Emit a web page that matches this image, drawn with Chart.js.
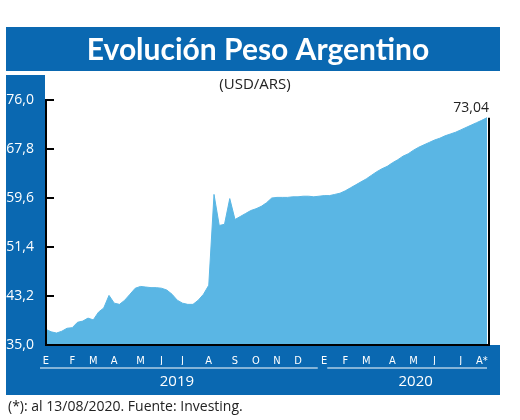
<!DOCTYPE html>
<html><head><meta charset="utf-8">
<script src="https://cdn.jsdelivr.net/npm/chart.js@4/dist/chart.umd.min.js"></script>
<style>
html,body{margin:0;padding:0;background:#fff;width:520px;height:420px;overflow:hidden}
#wrap{position:relative;width:520px;height:420px}
canvas{position:absolute;left:0;top:0}
</style></head><body>
<div id="wrap"><canvas id="c" width="520" height="420"></canvas></div>
<script>
const title = "Evolución Peso Argentino";
const subtitle = "(USD/ARS)";
const footnote = "(*): al 13/08/2020. Fuente: Investing.";
const yearLabels = ["2019", "2020"];
const yTicks = [35.0, 43.2, 51.4, 59.6, 67.8, 76.0];
const monthLetters = ["E","F","M","A","M","J","J","A","S","O","N","D","E","F","M","A","M","J","J","A*"];
const weeksPerMonth = [5,4,4,5,4,4,5,5,4,4,4,5,4,4,5,4,4,5,4,2];
const values = [
 37.6,37.2,37.0,37.3,37.8,
 37.9,38.8,39.0,39.5,
 39.2,40.5,41.2,43.3,
 42.0,41.8,42.5,43.5,44.5,
 44.8,44.7,44.6,44.6,
 44.5,44.2,43.5,42.5,
 42.0,41.8,41.8,42.5,43.5,
 45.0,60.2,55.0,55.2,59.5,
 56.0,56.5,57.0,57.5,
 57.8,58.2,58.8,59.6,
 59.7,59.7,59.7,59.8,
 59.8,59.9,59.9,59.8,59.9,
 60.0,60.0,60.2,60.4,
 60.8,61.3,61.8,62.3,
 62.8,63.4,64.0,64.5,64.9,
 65.5,66.0,66.6,67.0,
 67.6,68.1,68.5,68.9,
 69.3,69.6,70.0,70.3,70.6,
 71.0,71.4,71.8,72.2,
 72.6,73.04
];
const lastLabel = "73,04";

const labels = [];
monthLetters.forEach((m,i)=>{ for(let k=0;k<weeksPerMonth[i];k++) labels.push(k===0?m:""); });

const BLUE = "#0a68b1", FILL = "#5ab6e4";
const fmt = v => v.toFixed(1).replace(".", ",");

const deco = {
 id:"deco",
 beforeDraw(ch){
  const c = ch.ctx, a = ch.chartArea;
  c.save();
  c.fillStyle="#fff"; c.fillRect(0,0,520,420);
  c.fillStyle=BLUE;
  c.fillRect(6,27,494,44);
  c.fillRect(6,75,39,320);
  c.fillRect(6,a.bottom,494,395-a.bottom);
  c.fillStyle="#fff";
  c.font="bold 30px 'Lato','Open Sans',sans-serif";
  c.textAlign="center"; c.textBaseline="middle";
  c.fillText(title,258,50);
  c.fillStyle="#222"; c.font="15px 'Open Sans',sans-serif";
  c.fillText(subtitle,255,85);
  c.textAlign="left"; c.font="14px 'Open Sans',sans-serif";
  c.fillText(footnote,8,407);
  c.restore();
 },
 afterDraw(ch){
  const c = ch.ctx, a = ch.chartArea, xs = ch.scales.x, ys = ch.scales.y;
  c.save();
  c.strokeStyle="#000"; c.lineWidth=2;
  c.beginPath(); c.moveTo(a.left,a.top-1); c.lineTo(a.left,a.bottom); c.lineTo(a.right+2,a.bottom); c.lineTo(a.right+2,ys.getPixelForValue(values[values.length-1])); c.stroke();
  yTicks.forEach(v=>{const y=ys.getPixelForValue(v); c.beginPath(); c.moveTo(a.left,y); c.lineTo(a.left+8,y); c.stroke();});
  // year lines and labels
  const s2020 = labels.length - values.slice(53).length;
  c.strokeStyle="#fff"; c.lineWidth=1.2;
  c.beginPath(); c.moveTo(40,368); c.lineTo(xs.getPixelForValue(51)+4,368);
  c.moveTo(xs.getPixelForValue(s2020)+3,368); c.lineTo(a.right,368); c.stroke();
  c.fillStyle="#fff"; c.font="15px 'Open Sans',sans-serif"; c.textAlign="center"; c.textBaseline="middle";
  c.fillText(yearLabels[0],(40+xs.getPixelForValue(51))/2,382);
  c.fillText(yearLabels[1],(xs.getPixelForValue(s2020)+a.right)/2+10,382);
  c.fillStyle="#222"; c.font="14px 'Open Sans',sans-serif"; c.textAlign="right";
  c.fillText(lastLabel,a.right+2,ys.getPixelForValue(values[values.length-1])-10);
  c.restore();
 }
};

new Chart(document.getElementById("c"),{
 type:"line",
 data:{labels,datasets:[{data:values,fill:"start",backgroundColor:FILL,borderColor:FILL,borderWidth:1,pointRadius:0,tension:0}]},
 options:{
  responsive:false,animation:false,
  layout:{padding:{left:6,right:33,top:100,bottom:55}},
  plugins:{legend:{display:false},tooltip:{enabled:false}},
  scales:{
   x:{offset:false,grid:{display:false},border:{display:false},
      afterFit:s=>{s.height=20;},
      ticks:{autoSkip:false,maxRotation:0,color:"#fff",padding:2,
        font:{family:"'Liberation Sans Narrow','DejaVu Sans Condensed',sans-serif",size:11}}},
   y:{min:35,max:76,grid:{display:false},border:{display:false},
      afterFit:s=>{s.width=40;},
      afterBuildTicks:s=>{s.ticks=yTicks.map(v=>({value:v}));},
      ticks:{color:"#fff",padding:4,callback:v=>fmt(v),font:{family:"'Open Sans',sans-serif",size:14}}}
  }
 },
 plugins:[deco]
});
</script></body></html>
